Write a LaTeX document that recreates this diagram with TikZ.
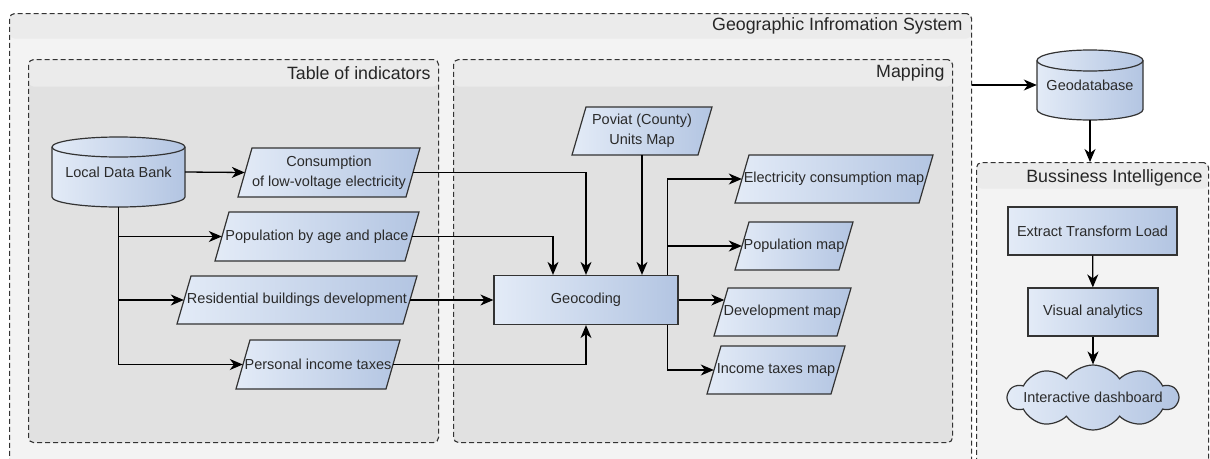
\documentclass[tikz,border=0pt]{standalone}
\usepackage{fontspec}
\setmainfont{Liberation Sans}
\usetikzlibrary{arrows.meta,shapes.symbols,calc}

\definecolor{lightb}{HTML}{E3EBF7}
\definecolor{darkb}{HTML}{B3C5E2}
\definecolor{edgec}{HTML}{333333}
\definecolor{txtc}{HTML}{2A2A2A}
\definecolor{outerbody}{HTML}{F3F3F3}
\definecolor{innerbody}{HTML}{E1E1E1}
\definecolor{bandc}{HTML}{EBEBEB}

\tikzset{
  nodefont/.style={font=\fontsize{14.5}{20}\selectfont, text=txtc},
  titlefont/.style={font=\fontsize{17.8}{21}\selectfont, text=black!85},
  shadeblue/.style={left color=lightb, right color=darkb, draw=edgec, line width=1.2pt},
  txt/.style={nodefont, inner sep=0pt, align=center},
  arr/.style={draw=black, line width=1.3pt, -{Stealth[length=13pt 0 0,width=11pt 0 0,inset=4pt]}},
  frame/.style={draw=edgec, dash pattern=on 5pt off 3pt, line width=1.1pt, rounded corners=5pt, inner sep=0pt, anchor=north west},
  rectbox/.style={shadeblue, nodefont, rectangle, inner sep=0pt, align=center},
}

% name, cx, cy (pixels, downwards), width at mid height, height, text
\newcommand\parab[6]{%
  \path[shadeblue] ({#2-#4/2-7},{-#3-#5/2}) -- ({#2+#4/2-7},{-#3-#5/2}) -- ({#2+#4/2+7},{-#3+#5/2}) -- ({#2-#4/2+7},{-#3+#5/2}) -- cycle;
  \node[txt, minimum width=#4pt, minimum height=#5pt] (#1) at (#2,-#3) {#6};
}
% name, cx, cy, w, h, ry, text
\newcommand\cylb[7]{%
  \begin{scope}[shift={(#2,-#3)}]
  \path[shadeblue] ({-#4/2},{#5/2-#6}) -- ({-#4/2},{-#5/2+#6}) arc[start angle=180,end angle=360,x radius=#4pt/2,y radius=#6pt] -- ({#4/2},{#5/2-#6}) arc[start angle=0,end angle=180,x radius=#4pt/2,y radius=#6pt] -- cycle;
  \draw[edgec, line width=1.2pt] ({-#4/2},{#5/2-#6}) arc[start angle=180,end angle=360,x radius=#4pt/2,y radius=#6pt];
  \end{scope}
  \node[txt, minimum width=#4pt, minimum height=#5pt] (#1) at (#2,-#3) {#7};
}

\begin{document}
\begin{tikzpicture}[x=1pt,y=1pt]
\useasboundingbox (0,0) rectangle (1210,-458);
\clip (0,0) rectangle (1210,-458);

% containers
\node[frame, fill=outerbody, minimum width=962pt, minimum height=480pt,
  path picture={\fill[bandc] (path picture bounding box.north west) rectangle ([yshift=-25pt]path picture bounding box.north east);}] (gis) at (9,-13) {};
\node[titlefont, anchor=east] (gist) at (966,-26) {Geographic Infromation System};

\node[frame, fill=innerbody, minimum width=410pt, minimum height=383pt,
  path picture={\fill[bandc] (path picture bounding box.north west) rectangle ([yshift=-27pt]path picture bounding box.north east);}] (toi) at (28,-59) {};
\node[titlefont, anchor=east] (toit) at (434,-73) {Table of indicators};

\node[frame, fill=innerbody, minimum width=499pt, minimum height=383pt,
  path picture={\fill[bandc] (path picture bounding box.north west) rectangle ([yshift=-27pt]path picture bounding box.north east);}] (map) at (453,-59) {};
\node[titlefont, anchor=east] (mapt) at (948,-73) {Mapping};

\node[frame, fill=outerbody, minimum width=232pt, minimum height=330pt,
  path picture={\fill[bandc] (path picture bounding box.north west) rectangle ([yshift=-26pt]path picture bounding box.north east);}] (bi) at (976,-162) {};
\node[titlefont, anchor=east] (bit) at (1206,-178) {Bussiness Intelligence};

% shapes
\cylb{ldb}{118.5}{172}{133}{70}{10}{Local Data Bank}
\cylb{gdb}{1090}{85}{106}{70}{10.5}{Geodatabase}

\parab{cons}{329}{172.5}{168}{49}{Consumption\\of low-voltage electricity}
\parab{pop}{317}{236.5}{190}{49}{Population by age and place}
\parab{res}{297}{300}{226}{48}{Residential buildings development}
\parab{pit}{318}{364.5}{150}{49}{Personal income taxes}
\parab{pov}{642}{131}{126}{48}{Poviat (County)\\Units Map}
\parab{ecm}{834}{179}{184}{48}{Electricity consumption map}
\parab{popm}{794}{246}{104}{48}{Population map}
\parab{devm}{782.5}{312}{123}{48}{Development map}
\parab{itm}{776}{370}{124}{48}{Income taxes map}

\node[rectbox, minimum width=184pt, minimum height=49pt] (geo) at (586,-300) {Geocoding};
\node[rectbox, minimum width=169pt, minimum height=48pt] (etl) at (1092.5,-231) {Extract Transform Load};
\node[rectbox, minimum width=130pt, minimum height=48pt] (va) at (1093,-312) {Visual analytics};
\node[cloud, cloud puffs=10, cloud puff arc=110, aspect=2.6, shadeblue, inner sep=0pt,
  minimum width=170pt, minimum height=65pt] (dash) at (1093,-397.5) {};
\node[txt] (dasht) at (dash.center) {Interactive dashboard};

% connectors
\draw[arr] (ldb.east) -- (cons.west);
\draw[arr] (ldb.south) |- (pop.west);
\draw[arr] (ldb.south) |- (res.west);
\draw[arr] (ldb.south) |- (pit.west);
\draw[arr] (cons.east) -| (geo.north);
\draw[arr] (pop.east) -| ([xshift=-33pt]geo.north);
\draw[arr] (res.east) -- (geo.west);
\draw[arr] (pit.east) -| (geo.south);
\draw[arr] (pov.south) -- (geo.north -| pov.south);
\draw[arr] ([xshift=-11pt]geo.north east) |- (ecm.west);
\draw[arr] ([xshift=-11pt]geo.north east) |- (popm.west);
\draw[arr] (geo.east) -- ([xshift=3.5pt]geo.east -| devm.west);
\draw[arr] ([xshift=-11pt]geo.south east) |- (itm.west);
\draw[arr] (gis.east |- gdb.west) -- (gdb.west);
\draw[arr] (gdb.south) -- (gdb.south |- bi.north);
\draw[arr] (etl) -- (va);
\draw[arr] (va) -- (dash);
\end{tikzpicture}
\end{document}
